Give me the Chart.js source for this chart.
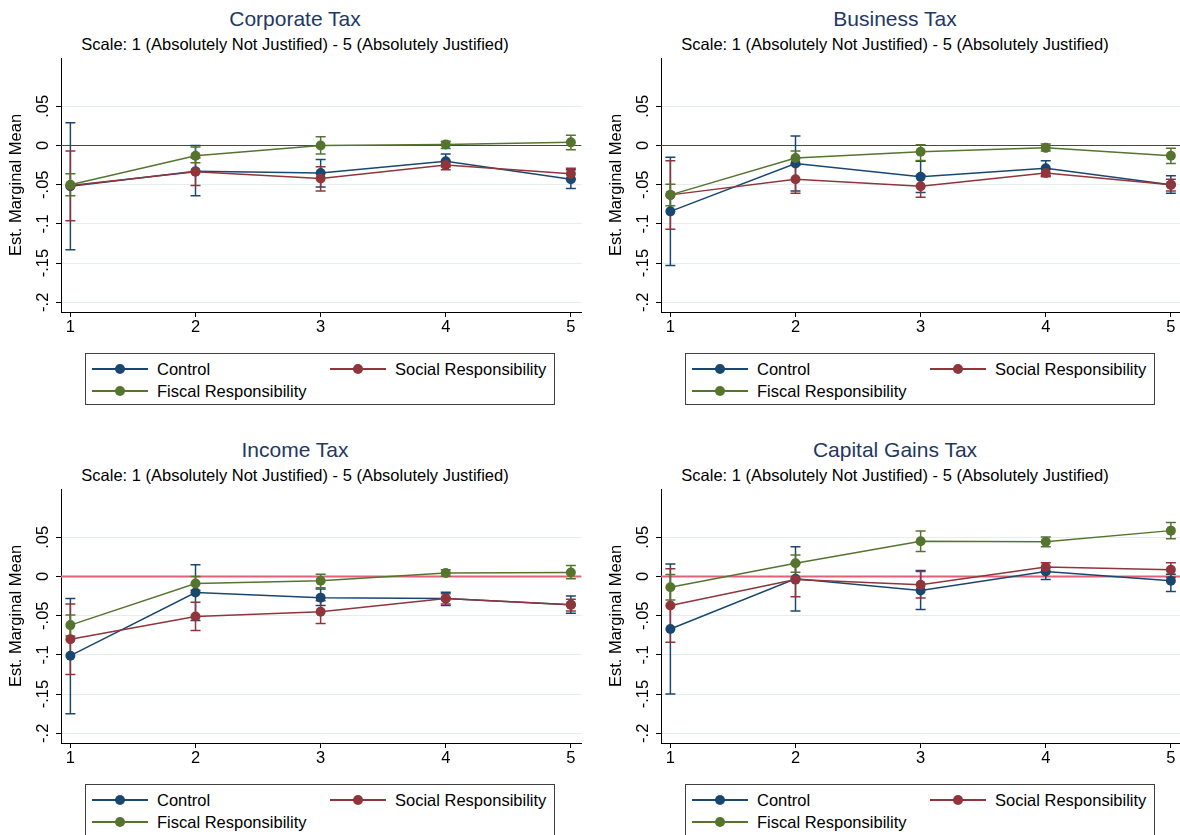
<!DOCTYPE html>
<html>
<head>
<meta charset="utf-8">
<script src="https://cdn.jsdelivr.net/npm/chart.js@4.4.0/dist/chart.umd.min.js"></script>
<style>
  body { margin: 0; width: 1180px; height: 835px; overflow: hidden; background: #fff;
         font-family: "Liberation Sans", Arial, sans-serif; position: relative; }
  .panel { position: absolute; width: 600px; height: 431px; }
  .title { position: absolute; left: 0; width: 590px; top: 6px; text-align: center;
           font-size: 21px; line-height: 26px; color: #1f3864; }
  .subtitle { position: absolute; left: 0; width: 590px; top: 34px; text-align: center;
              font-size: 16.5px; line-height: 20px; color: #000; }
  .panel canvas { position: absolute; left: 0; top: 50px; }
  .legend { position: absolute; left: 85px; top: 353px; width: 470px; height: 52px;
            border: 1px solid #404040; box-sizing: border-box; font-size: 16.5px; }
  .item { position: absolute; height: 20px; line-height: 20px; }
  .item .line { position: absolute; left: 0; top: 9px; width: 56px; height: 1.5px; }
  .item .dot { position: absolute; left: 23px; top: 5px; width: 10px; height: 10px; border-radius: 50%; }
  .item .lbl { position: absolute; left: 65px; top: 0; white-space: nowrap; color: #000; }
</style>
</head>
<body>
<script>
// ---------- データ ----------
const xValues = [1, 2, 3, 4, 5];
const xTickLabels = ['1', '2', '3', '4', '5'];
const yTickValues = [-0.2, -0.15, -0.1, -0.05, 0, 0.05];
const yTickLabels = ['-.2', '-.15', '-.1', '-.05', '0', '.05'];
const seriesNames = ['Control', 'Social Responsibility', 'Fiscal Responsibility'];
const panelTitles = ['Corporate Tax', 'Business Tax', 'Income Tax', 'Capital Gains Tax'];
const subtitleText = 'Scale: 1 (Absolutely Not Justified) - 5 (Absolutely Justified)';
const yAxisTitle = 'Est. Marginal Mean';

// Corporate Tax
const corporateControl = [-0.052, -0.033, -0.035, -0.020, -0.043];
const corporateControlCI = [[-0.133, 0.029], [-0.064, 0.000], [-0.053, -0.018], [-0.027, -0.011], [-0.055, -0.031]];
const corporateSocial = [-0.051, -0.0335, -0.042, -0.025, -0.036];
const corporateSocialCI = [[-0.096, -0.007], [-0.051, -0.016], [-0.058, -0.027], [-0.031, -0.020], [-0.043, -0.029]];
const corporateFiscal = [-0.050, -0.013, 0.000, 0.0013, 0.004];
const corporateFiscalCI = [[-0.064, -0.036], [-0.022, -0.002], [-0.011, 0.011], [-0.004, 0.0055], [-0.0055, 0.013]];

// Business Tax
const businessControl = [-0.084, -0.023, -0.040, -0.029, -0.050];
const businessControlCI = [[-0.153, -0.015], [-0.058, 0.012], [-0.060, -0.020], [-0.0385, -0.0195], [-0.061, -0.0385]];
const businessSocial = [-0.063, -0.043, -0.052, -0.035, -0.050];
const businessSocialCI = [[-0.107, -0.0195], [-0.061, -0.025], [-0.066, -0.038], [-0.040, -0.030], [-0.058, -0.043]];
const businessFiscal = [-0.063, -0.016, -0.008, -0.003, -0.013];
const businessFiscalCI = [[-0.077, -0.0495], [-0.025, -0.007], [-0.019, 0.001], [-0.007, 0.002], [-0.023, -0.0035]];

// Income Tax
const incomeControl = [-0.101, -0.0205, -0.027, -0.028, -0.036];
const incomeControlCI = [[-0.175, -0.028], [-0.056, 0.015], [-0.037, -0.016], [-0.037, -0.020], [-0.047, -0.025]];
const incomeSocial = [-0.080, -0.051, -0.045, -0.028, -0.036];
const incomeSocialCI = [[-0.125, -0.035], [-0.069, -0.033], [-0.060, -0.031], [-0.035, -0.022], [-0.044, -0.029]];
const incomeFiscal = [-0.062, -0.009, -0.0055, 0.0045, 0.005];
const incomeFiscalCI = [[-0.076, -0.049], [-0.0175, 0.000], [-0.0145, 0.003], [0.0004, 0.0085], [-0.003, 0.014]];

// Capital Gains Tax
const capitalControl = [-0.067, -0.003, -0.0178, 0.0065, -0.0055];
const capitalControlCI = [[-0.150, 0.016], [-0.044, 0.038], [-0.042, 0.0075], [-0.004, 0.0115], [-0.019, 0.003]];
const capitalSocial = [-0.037, -0.004, -0.0105, 0.012, 0.0085];
const capitalSocialCI = [[-0.084, 0.010], [-0.026, 0.017], [-0.0275, 0.0065], [0.006, 0.0175], [-0.001, 0.0175]];
const capitalFiscal = [-0.0137, 0.017, 0.045, 0.0444, 0.0585];
const capitalFiscalCI = [[-0.030, 0.0026], [0.0055, 0.0275], [0.032, 0.058], [0.038, 0.0504], [0.048, 0.069]];

const panelData = [
  [[corporateControl, corporateControlCI], [corporateSocial, corporateSocialCI], [corporateFiscal, corporateFiscalCI]],
  [[businessControl, businessControlCI], [businessSocial, businessSocialCI], [businessFiscal, businessFiscalCI]],
  [[incomeControl, incomeControlCI], [incomeSocial, incomeSocialCI], [incomeFiscal, incomeFiscalCI]],
  [[capitalControl, capitalControlCI], [capitalSocial, capitalSocialCI], [capitalFiscal, capitalFiscalCI]]
];

// ---------- 見た目 ----------
const seriesColors = ['#1a476f', '#90353b', '#55752f'];
const panelLeft = [0, 600, 0, 600];
const panelTop = [0, 0, 431, 431];
const zeroLineColor = ['#b8123a', '#b8123a', '#e3607c', '#e3607c'];
const zeroLineWidth = [1.2, 1.2, 2, 2];
const FONT = '"Liberation Sans", Arial, sans-serif';
const TEXT_SIZE = 16.5;

Chart.defaults.font.family = FONT;
Chart.defaults.color = '#000';

// 0 の参照線 + エラーバー（rcap）
const refAndCaps = {
  id: 'refAndCaps',
  beforeDatasetsDraw(chart, args, opts) {
    const { ctx, chartArea } = chart;
    const xs = chart.scales.x, ys = chart.scales.y;
    ctx.save();
    ctx.beginPath();
    ctx.rect(chartArea.left, chartArea.top, chartArea.right - chartArea.left, chartArea.bottom - chartArea.top);
    ctx.clip();
    const y0 = ys.getPixelForValue(0);
    ctx.strokeStyle = opts.zeroColor;
    ctx.lineWidth = opts.zeroWidth;
    ctx.beginPath();
    ctx.moveTo(chartArea.left, y0);
    ctx.lineTo(chartArea.right, y0);
    ctx.stroke();

    opts.cis.forEach((ci, s) => {
      ctx.strokeStyle = seriesColors[s];
      ctx.lineWidth = 1.5;
      ci.forEach((pair, i) => {
        const px = xs.getPixelForValue(xValues[i]);
        const lo = ys.getPixelForValue(pair[0]);
        const hi = ys.getPixelForValue(pair[1]);
        ctx.beginPath();
        ctx.moveTo(px, lo); ctx.lineTo(px, hi);
        ctx.moveTo(px - 5, lo); ctx.lineTo(px + 5, lo);
        ctx.moveTo(px - 5, hi); ctx.lineTo(px + 5, hi);
        ctx.stroke();
      });
    });
    ctx.restore();
  }
};

// Stata 風の縦書き y 目盛りラベル
const rotatedYTicks = {
  id: 'rotatedYTicks',
  afterDraw(chart) {
    const { ctx } = chart;
    const ys = chart.scales.y;
    ctx.save();
    ctx.font = TEXT_SIZE + 'px ' + FONT;
    ctx.fillStyle = '#000';
    ctx.textAlign = 'center';
    ctx.textBaseline = 'middle';
    yTickValues.forEach((v, i) => {
      ctx.save();
      ctx.translate(43, ys.getPixelForValue(v));
      ctx.rotate(-Math.PI / 2);
      ctx.fillText(yTickLabels[i], 0, 0);
      ctx.restore();
    });
    ctx.restore();
  }
};

function buildLegend() {
  const box = document.createElement('div');
  box.className = 'legend';
  const spots = [[6, 5], [244, 5], [6, 27]];
  seriesNames.forEach((name, s) => {
    const it = document.createElement('div');
    it.className = 'item';
    it.style.left = spots[s][0] + 'px';
    it.style.top = spots[s][1] + 'px';
    it.innerHTML = '<div class="line" style="background:' + seriesColors[s] + '"></div>' +
      '<div class="dot" style="background:' + seriesColors[s] + '"></div>' +
      '<div class="lbl">' + name + '</div>';
    box.appendChild(it);
  });
  return box;
}

function buildPanel(p) {
  const panel = document.createElement('div');
  panel.className = 'panel';
  panel.style.left = panelLeft[p] + 'px';
  panel.style.top = panelTop[p] + 'px';

  const t = document.createElement('div');
  t.className = 'title';
  t.textContent = panelTitles[p];
  panel.appendChild(t);

  const st = document.createElement('div');
  st.className = 'subtitle';
  st.textContent = subtitleText;
  panel.appendChild(st);

  const canvas = document.createElement('canvas');
  canvas.width = 600;
  canvas.height = 290;
  panel.appendChild(canvas);
  panel.appendChild(buildLegend());
  document.body.appendChild(panel);

  const order = [2, 1, 0];
  const datasets = panelData[p].map((pair, s) => ({
    label: seriesNames[s],
    data: xValues.map((x, i) => ({ x: x, y: pair[0][i] })),
    borderColor: seriesColors[s],
    backgroundColor: seriesColors[s],
    borderWidth: 1.5,
    pointRadius: 5,
    pointBorderWidth: 0,
    pointBackgroundColor: seriesColors[s],
    tension: 0,
    order: order[s]
  }));

  new Chart(canvas, {
    type: 'line',
    data: { datasets: datasets },
    plugins: [refAndCaps, rotatedYTicks],
    options: {
      responsive: false,
      animation: false,
      layout: { padding: { top: 8, right: 18.5, left: 0, bottom: 0 } },
      scales: {
        x: {
          type: 'linear',
          min: 0.925,
          max: 5.085,
          afterBuildTicks: (s) => { s.ticks = xValues.map((v) => ({ value: v })); },
          afterFit: (s) => { s.height = 28; },
          ticks: {
            callback: (v) => xTickLabels[xValues.indexOf(v)],
            font: { size: TEXT_SIZE },
            color: '#000',
            padding: 1,
            maxRotation: 0,
            autoSkip: false
          },
          grid: { drawOnChartArea: false, tickLength: 5, tickColor: '#000', tickWidth: 1 },
          border: { color: '#000', width: 1 }
        },
        y: {
          type: 'linear',
          min: -0.2124,
          max: 0.1116,
          afterBuildTicks: (s) => { s.ticks = yTickValues.map((v) => ({ value: v })); },
          afterFit: (s) => { s.width = 61; },
          ticks: { display: false },
          grid: { color: '#e5edef', lineWidth: 1, tickLength: 5, tickColor: '#000', tickWidth: 1 },
          border: { color: '#000', width: 1 },
          title: {
            display: true,
            text: yAxisTitle,
            font: { size: TEXT_SIZE },
            color: '#000',
            padding: { top: 7, bottom: 0 }
          }
        }
      },
      plugins: {
        legend: { display: false },
        tooltip: { enabled: false },
        refAndCaps: { zeroColor: zeroLineColor[p], zeroWidth: zeroLineWidth[p], cis: panelData[p].map((pair) => pair[1]) }
      }
    }
  });
}

panelTitles.forEach((_, p) => buildPanel(p));
</script>
</body>
</html>
